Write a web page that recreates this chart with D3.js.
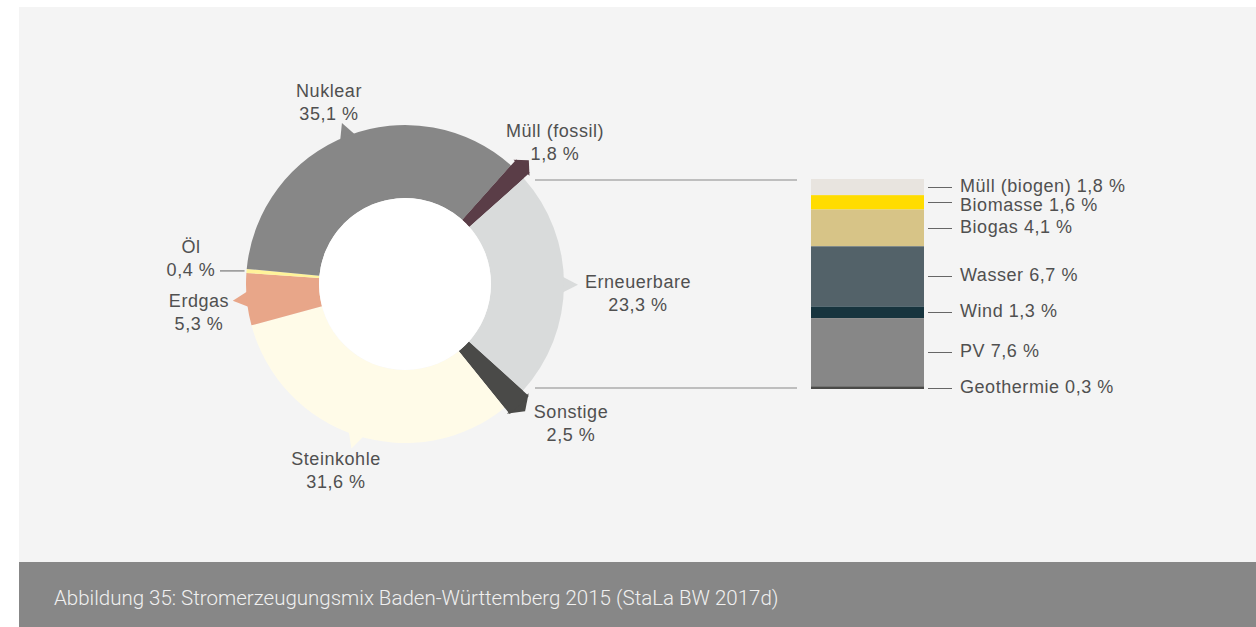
<!DOCTYPE html>
<html><head><meta charset="utf-8">
<script src="https://cdn.jsdelivr.net/npm/d3@7"></script>
<style>
html,body{margin:0;padding:0;background:#fff;}
svg{display:block;}
.lbl{font-family:"Liberation Sans",Arial,sans-serif;font-size:18px;letter-spacing:0.55px;fill:#505050;}
</style></head>
<body>
<svg id="c" width="1256" height="627"></svg>
<script>
// ---- data ----
const mixCategories = ["Müll (fossil)", "Erneuerbare", "Sonstige", "Steinkohle", "Erdgas", "Öl", "Nuklear"];
const mixValues     = [1.8, 23.3, 2.5, 31.6, 5.3, 0.4, 35.1];
const mixColors     = ["#5a3d47", "#d9dbdb", "#4a4a48", "#fffbe8", "#e8a689", "#fff39a", "#878787"];
const renewCategories = ["Müll (biogen)", "Biomasse", "Biogas", "Wasser", "Wind", "PV", "Geothermie"];
const renewValues     = [1.8, 1.6, 4.1, 6.7, 1.3, 7.6, 0.3];
const renewColors     = ["#e8e4df", "#ffdc00", "#d7c487", "#536269", "#17343e", "#878787", "#4a4a48"];
const captionText = "Abbildung 35: Stromerzeugungsmix Baden-Württemberg 2015 (StaLa BW 2017d)";

// ---- layout ----
const fmt = v => String(v.toFixed(1)).replace(".", ",") + " %";
const cx = 405, cy = 284, R = 159, r = 86;
const startDeg = 41.8;
// pointer style per slice and label offsets (relative to donut centre)
const pointerType = ["ext", "tri", "ext", "tri", "tri", "none", "tri"];
const labelOffsets = [[150,-147],[233,4],[166,134],[-69,181],[-206,23],[-214,-31],[-76,-187]];

const svg = d3.select("#c");
svg.append("rect").attr("x",19).attr("y",7).attr("width",1237).attr("height",555).attr("fill","#f4f4f4");
svg.append("rect").attr("x",19).attr("y",562).attr("width",1237).attr("height",65).attr("fill","#878787");
svg.append("text").attr("x",54).attr("y",605).text(captionText)
  .style("font-family","Roboto, sans-serif").style("font-weight",300).style("font-size","20.5px").attr("fill","#f0f0f0");

const start = startDeg*Math.PI/180;
const pie = d3.pie().sort(null).value(d=>d).startAngle(start).endAngle(start+2*Math.PI);
const arcs = pie(mixValues);
const g = svg.append("g").attr("transform",`translate(${cx},${cy})`);
const pt = (a, rad) => [rad*Math.sin(a), -rad*Math.cos(a)];

// pointers (drawn under slices)
arcs.forEach((a,i)=>{
  const mid = (a.startAngle+a.endAngle)/2;
  if (pointerType[i]==="tri") {
    const h = 9/R;
    const p = [pt(mid-h,R-3), pt(mid,R+14), pt(mid+h,R-3)];
    g.append("path").attr("d", d3.line()(p)).attr("fill", mixColors[i]);
  } else if (pointerType[i]==="ext") {
    const w = 0.012;
    const p = [pt(a.startAngle-w,R+6), pt(mid,R+16), pt(a.endAngle+w,R+6)];
    g.append("path").attr("d", d3.line()(p)).attr("fill", mixColors[i]);
  }
});
const arcGen = d3.arc().innerRadius(r).outerRadius(R);
g.selectAll("path.slice").data(arcs).enter().append("path").attr("class","slice")
  .attr("d", arcGen).attr("fill",(d,i)=>mixColors[i]);
// extended slices on top
arcs.forEach((a,i)=>{
  if (pointerType[i]==="ext") g.append("path").attr("d", d3.arc().innerRadius(r).outerRadius(R+8)(a)).attr("fill", mixColors[i]);
});
g.append("circle").attr("r", r).attr("fill","#fff");

// labels
mixCategories.forEach((c,i)=>{
  const [dx,dy] = labelOffsets[i];
  const t = g.append("text").attr("class","lbl").attr("text-anchor","middle");
  t.append("tspan").attr("x",dx).attr("y",dy).text(c);
  t.append("tspan").attr("x",dx).attr("y",dy+23).text(fmt(mixValues[i]));
});
// Öl leader line
const oelIdx = mixCategories.indexOf("Öl");
{
  const a = arcs[oelIdx]; const mid=(a.startAngle+a.endAngle)/2;
  const p = pt(mid, R);
  g.append("line").attr("x1",-185).attr("x2",p[0]-2).attr("y1",p[1]).attr("y2",p[1]).attr("stroke","#777").attr("stroke-width",1.2);
}

// stacked bar of renewables
const total = d3.sum(renewValues);
const barX = 811, barW = 113, barTop = 179, barBot = 389;
const y = d3.scaleLinear().domain([0,total]).range([barTop,barBot]);
const cum = d3.cumsum(renewValues);
const segs = renewValues.map((v,i)=>({cat:renewCategories[i], v, y0:cum[i]-v, y1:cum[i], col:renewColors[i]}));
svg.selectAll("rect.seg").data(segs).enter().append("rect").attr("class","seg")
  .attr("x",barX).attr("width",barW).attr("y",d=>y(d.y0)).attr("height",d=>y(d.y1)-y(d.y0)).attr("fill",d=>d.col);
// connector lines from donut to bar
svg.append("line").attr("x1",535).attr("x2",797).attr("y1",barTop+1).attr("y2",barTop+1).attr("stroke","#888").attr("stroke-width",1.2);
svg.append("line").attr("x1",535).attr("x2",797).attr("y1",barBot-1).attr("y2",barBot-1).attr("stroke","#888").attr("stroke-width",1.2);
// bar labels (nudged apart where segments are thin)
let prevBase = -Infinity;
segs.forEach(d=>{
  const ly = Math.round((y(d.y0)+y(d.y1))/2);
  const base = Math.max(ly+5, prevBase+19);
  prevBase = base;
  svg.append("line").attr("x1",928).attr("x2",952).attr("y1",ly+0.5).attr("y2",ly+0.5).attr("stroke","#666").attr("stroke-width",1);
  svg.append("text").attr("class","lbl").attr("x",960).attr("y",base).text(d.cat+" "+fmt(d.v));
});
</script>
</body></html>
